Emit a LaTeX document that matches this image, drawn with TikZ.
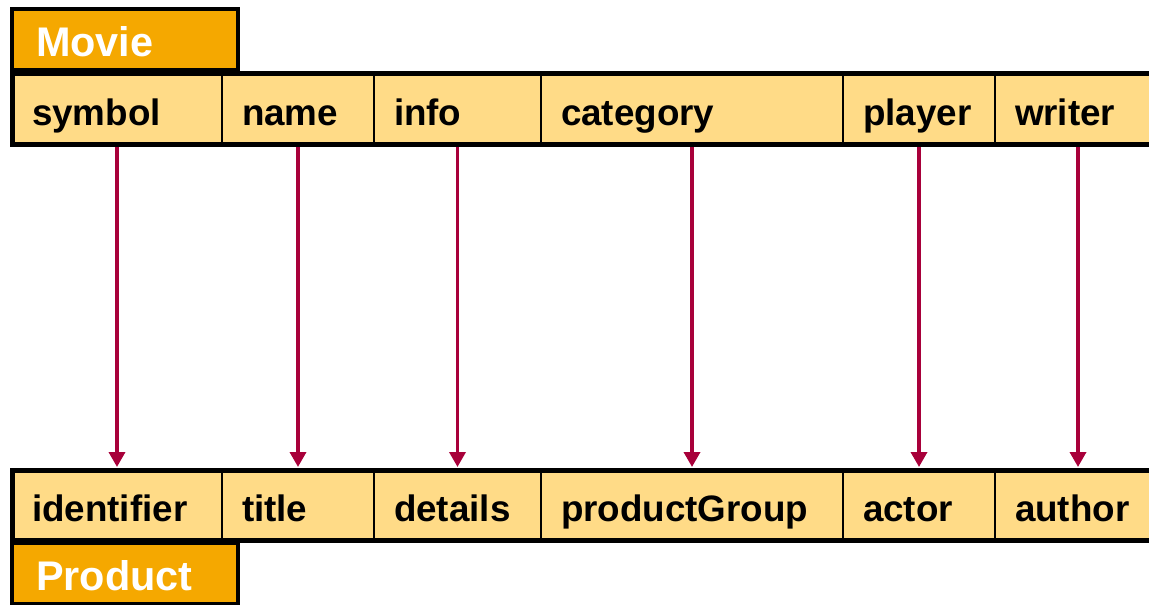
\documentclass[tikz,border=0pt]{standalone}
\usepackage{fontspec}
\setmainfont{Liberation Sans}
\usetikzlibrary{arrows.meta}
\definecolor{hdrfill}{HTML}{F5A800}
\definecolor{cellfill}{HTML}{FFDB87}
\definecolor{maplink}{HTML}{A8003A}
\begin{document}
\begin{tikzpicture}[x=1pt,y=-1pt,
  cell/.style={draw=black, line width=1.5pt, fill=cellfill, anchor=north west,
    outer sep=0pt, inner xsep=20pt, inner ysep=0pt, text height=36pt, text depth=3pt,
    align=left, font=\fontsize{36.8pt}{40pt}\selectfont\bfseries},
  toprow/.style={cell, minimum height=71pt},
  botrow/.style={cell, minimum height=70pt},
  header/.style={draw=black, line width=4pt, fill=hdrfill, text=white, anchor=north west,
    outer sep=0pt, inner xsep=24pt, inner ysep=0pt, text height=37pt, text depth=3pt,
    text width=178pt, align=left, minimum height=61pt,
    font=\fontsize{41.4pt}{44pt}\selectfont\bfseries},
  rowborder/.style={line width=5pt, line join=miter},
  maparrow/.style={draw=maplink, line width=3.5pt, shorten >=3pt, shorten <=3pt,
    -{Triangle[width=16pt,length=15pt]}}]
\useasboundingbox (0,0) rectangle (1149,605);
\clip (0,0) rectangle (1149,605);

% Movie attributes
\node[toprow, text width=170pt] (symbol)   at (12,73)            {symbol};
\node[toprow, text width=112pt] (name)     at (symbol.north east) {name};
\node[toprow, text width=127pt] (info)     at (name.north east)   {info};
\node[toprow, text width=262pt] (category) at (info.north east)   {category};
\node[toprow, text width=112pt] (player)   at (category.north east) {player};
\node[toprow, text width=126pt] (writer)   at (player.north east) {writer};

% Product attributes
\node[botrow, text width=170pt] (identifier)   at (12,470)                {identifier};
\node[botrow, text width=112pt] (title)        at (identifier.north east) {title};
\node[botrow, text width=127pt] (details)      at (title.north east)      {details};
\node[botrow, text width=262pt] (productGroup) at (details.north east)    {productGroup};
\node[botrow, text width=112pt] (actor)        at (productGroup.north east) {actor};
\node[botrow, text width=126pt] (author)       at (actor.north east)      {author};

% attribute mappings
\draw[maparrow] (symbol.south)   -- (identifier.north);
\draw[maparrow] (name.south)     -- (title.north);
\draw[maparrow] (info.south)     -- (details.north);
\draw[maparrow] (category.south) -- (productGroup.north);
\draw[maparrow] (player.south)   -- (actor.north);
\draw[maparrow] (writer.south)   -- (author.north);

% heavy outlines of the two rows
\draw[rowborder] (writer.north east) -- (symbol.north west) -- (symbol.south west) -- (writer.south east);
\draw[rowborder] (author.north east) -- (identifier.north west) -- (identifier.south west) -- (author.south east);

% entity names
\node[header] (movie)   at (12,9)   {Movie};
\node[header] (product) at (12,543) {Product};
\end{tikzpicture}
\end{document}
